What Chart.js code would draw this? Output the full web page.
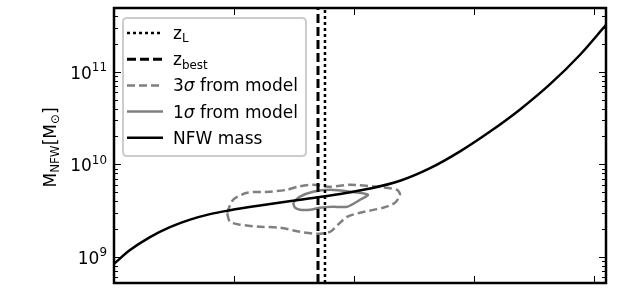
<!DOCTYPE html>
<html>
<head>
<meta charset="utf-8">
<script src="https://cdn.jsdelivr.net/npm/chart.js@4"></script>
<style>
  html, body { margin: 0; padding: 0; background: #fff; }
</style>
</head>
<body>
<canvas id="massChart" width="639" height="295"></canvas>
<script>
const FONT = "'DejaVu Sans', sans-serif";

// NFW mass along the (unlabelled) x axis
const nfwX = [0, 0.0667, 0.15, 0.233, 0.317, 0.4, 0.483, 0.608, 0.775, 0.942, 1.067, 1.192, 1.317, 1.442, 1.567, 1.692, 1.817, 1.942, 2.05];
const nfwMass = [8.39e8, 1.18e9, 1.63e9, 2.09e9, 2.52e9, 2.89e9, 3.18e9, 3.58e9, 4.13e9, 4.77e9, 5.46e9, 6.63e9, 9.08e9, 1.38e10, 2.26e10, 3.92e10, 7.35e10, 1.53e11, 3.22e11];

// 3 sigma contour (closed)
const sig3X = [0.471, 0.496, 0.554, 0.650, 0.721, 0.763, 0.829, 0.900, 0.983, 1.096, 1.179, 1.192, 1.171, 1.121, 1.025, 0.971, 0.933, 0.900, 0.846, 0.775, 0.692, 0.608, 0.525, 0.483, 0.471];
const sig3Mass = [2.99e9, 4.13e9, 4.92e9, 5.05e9, 5.30e9, 5.71e9, 6.00e9, 5.71e9, 6.00e9, 5.71e9, 5.30e9, 4.68e9, 3.84e9, 3.39e9, 2.99e9, 2.70e9, 2.22e9, 1.86e9, 1.77e9, 1.86e9, 2.06e9, 2.11e9, 2.22e9, 2.39e9, 2.99e9];

// 1 sigma contour (closed)
const sig1X = [0.746, 0.775, 0.829, 0.900, 0.983, 1.058, 1.025, 0.971, 0.913, 0.858, 0.817, 0.775, 0.754, 0.746];
const sig1Mass = [3.84e9, 4.46e9, 5.05e9, 5.30e9, 5.05e9, 4.68e9, 4.13e9, 3.47e9, 3.47e9, 3.39e9, 3.22e9, 3.22e9, 3.39e9, 3.84e9];

const zL = 0.879;
const zBest = 0.85;

const xRange = [0, 2.05];
const yRange = [5.2e8, 4.9e11];
const xTicks = [0.5, 1.0, 1.5, 2.0];
const yTicks = [1e9, 1e10, 1e11];
const yTickExps = ['9', '10', '11'];

const pts = (xs, ys) => xs.map((x, i) => ({ x: x, y: ys[i] }));

// draws text made of pieces (subscripts / superscripts / italics)
function drawParts(ctx, parts, x, y, size) {
  for (const p of parts) {
    const small = p.sub || p.sup;
    const fs = small ? size * 0.7 : size;
    ctx.font = (p.italic ? 'italic ' : '') + fs + 'px ' + FONT;
    const dy = p.sub ? size * 0.2 : (p.sup ? -size * 0.45 : 0);
    ctx.fillText(p.t, x, y + dy);
    x += ctx.measureText(p.t).width;
  }
  return x;
}

function partsWidth(ctx, parts, size) {
  let w = 0;
  parts.forEach(p => {
    const fs = (p.sub || p.sup) ? size * 0.7 : size;
    ctx.font = (p.italic ? 'italic ' : '') + fs + 'px ' + FONT;
    w += ctx.measureText(p.t).width;
  });
  return w;
}

const frameTicks = {
  id: 'frameTicks',
  afterDatasetsDraw(chart) {
    const { ctx, chartArea: a, scales: { x, y } } = chart;
    ctx.save();
    ctx.strokeStyle = '#000';
    ctx.lineWidth = 1;
    ctx.beginPath();
    xTicks.forEach(v => {
      const px = Math.round(x.getPixelForValue(v)) + 0.5;
      ctx.moveTo(px, a.bottom); ctx.lineTo(px, a.bottom - 7);
      ctx.moveTo(px, a.top); ctx.lineTo(px, a.top + 7);
    });
    for (let e = Math.floor(Math.log10(y.min)); e <= Math.ceil(Math.log10(y.max)); e++) {
      for (let k = 1; k <= 9; k++) {
        const v = k * Math.pow(10, e);
        if (v < y.min || v > y.max) continue;
        const py = Math.round(y.getPixelForValue(v)) + 0.5;
        const len = k === 1 ? 7 : 4;
        ctx.moveTo(a.left, py); ctx.lineTo(a.left + len, py);
        ctx.moveTo(a.right, py); ctx.lineTo(a.right - len, py);
      }
    }
    ctx.stroke();
    ctx.lineWidth = 2.5;
    ctx.strokeRect(a.left, a.top, a.right - a.left, a.bottom - a.top);

    // y tick labels as 10 with a raised exponent
    ctx.fillStyle = '#000';
    ctx.textBaseline = 'alphabetic';
    yTicks.forEach((v, i) => {
      const parts = [{ t: '10' }, { t: yTickExps[i], sup: true }];
      const w = partsWidth(ctx, parts, 17);
      drawParts(ctx, parts, a.left - 7 - w, y.getPixelForValue(v) + 7, 17);
    });
    ctx.restore();
  }
};

const legendOrder = [0, 1, 4, 3, 2];

const customLegend = {
  id: 'customLegend',
  afterDraw(chart) {
    const { ctx, chartArea: a } = chart;
    const bx = a.left + 9, by = a.top + 10, bw = 183, bh = 138, r = 4;
    ctx.save();
    ctx.beginPath();
    ctx.moveTo(bx + r, by);
    ctx.lineTo(bx + bw - r, by); ctx.quadraticCurveTo(bx + bw, by, bx + bw, by + r);
    ctx.lineTo(bx + bw, by + bh - r); ctx.quadraticCurveTo(bx + bw, by + bh, bx + bw - r, by + bh);
    ctx.lineTo(bx + r, by + bh); ctx.quadraticCurveTo(bx, by + bh, bx, by + bh - r);
    ctx.lineTo(bx, by + r); ctx.quadraticCurveTo(bx, by, bx + r, by);
    ctx.closePath();
    ctx.fillStyle = '#fff';
    ctx.fill();
    ctx.strokeStyle = '#cccccc';
    ctx.lineWidth = 2;
    ctx.stroke();

    legendOrder.forEach((di, row) => {
      const ds = chart.data.datasets[di];
      const ry = by + 15 + row * 26.2;
      ctx.beginPath();
      ctx.setLineDash(ds.borderDash || []);
      ctx.strokeStyle = ds.borderColor;
      ctx.lineWidth = ds.borderWidth;
      ctx.moveTo(bx + 4, ry); ctx.lineTo(bx + 40, ry);
      ctx.stroke();
      ctx.setLineDash([]);
      ctx.fillStyle = '#000';
      ctx.textBaseline = 'alphabetic';
      drawParts(ctx, ds.parts, bx + 50, ry + 6, 17);
    });
    ctx.restore();
  }
};

const yTitle = {
  id: 'yTitle',
  afterDraw(chart) {
    const { ctx, chartArea: a } = chart;
    const parts = [{ t: 'M' }, { t: 'NFW', sub: true }, { t: '[M' }, { t: '⊙', sub: true }, { t: ']' }];
    ctx.save();
    const w = partsWidth(ctx, parts, 17);
    ctx.translate(56, (a.top + a.bottom) / 2 + 2);
    ctx.rotate(-Math.PI / 2);
    ctx.fillStyle = '#000';
    ctx.textBaseline = 'alphabetic';
    drawParts(ctx, parts, -w / 2, 0, 17);
    ctx.restore();
  }
};

new Chart(document.getElementById('massChart'), {
  type: 'scatter',
  data: {
    datasets: [
      {
        label: 'z_L', parts: [{ t: 'z' }, { t: 'L', sub: true }],
        data: pts([zL, zL], yRange),
        showLine: true, pointRadius: 0, borderColor: '#000', borderWidth: 2.5, borderDash: [3, 3]
      },
      {
        label: 'z_best', parts: [{ t: 'z' }, { t: 'best', sub: true }],
        data: pts([zBest, zBest], yRange),
        showLine: true, pointRadius: 0, borderColor: '#000', borderWidth: 3, borderDash: [9, 4]
      },
      {
        label: 'NFW mass', parts: [{ t: 'NFW mass' }],
        data: pts(nfwX, nfwMass),
        showLine: true, pointRadius: 0, borderColor: '#000', borderWidth: 2.5,
        cubicInterpolationMode: 'monotone'
      },
      {
        label: '1σ from model', parts: [{ t: '1' }, { t: 'σ', italic: true }, { t: ' from model' }],
        data: pts(sig1X, sig1Mass),
        showLine: true, pointRadius: 0, borderColor: '#808080', borderWidth: 2.5, tension: 0.25
      },
      {
        label: '3σ from model', parts: [{ t: '3' }, { t: 'σ', italic: true }, { t: ' from model' }],
        data: pts(sig3X, sig3Mass),
        showLine: true, pointRadius: 0, borderColor: '#808080', borderWidth: 2.5, borderDash: [8, 4], tension: 0.25
      }
    ]
  },
  options: {
    responsive: false,
    animation: false,
    devicePixelRatio: 1,
    events: [],
    layout: { padding: { top: 8, right: 33, bottom: 12, left: 0 } },
    plugins: {
      legend: { display: false },
      tooltip: { enabled: false }
    },
    scales: {
      x: {
        type: 'linear', min: xRange[0], max: xRange[1],
        grid: { display: false },
        border: { display: false },
        ticks: { display: false },
        afterFit: s => { s.height = 0; s.paddingLeft = 0; s.paddingRight = 0; }
      },
      y: {
        type: 'logarithmic', min: yRange[0], max: yRange[1],
        grid: { display: false, drawTicks: false },
        border: { display: false },
        afterBuildTicks: s => { s.ticks = yTicks.map(v => ({ value: v })); },
        ticks: { display: false },
        afterFit: s => { s.width = 114; s.paddingTop = 0; s.paddingBottom = 0; }
      }
    }
  },
  plugins: [frameTicks, customLegend, yTitle]
});
</script>
</body>
</html>
